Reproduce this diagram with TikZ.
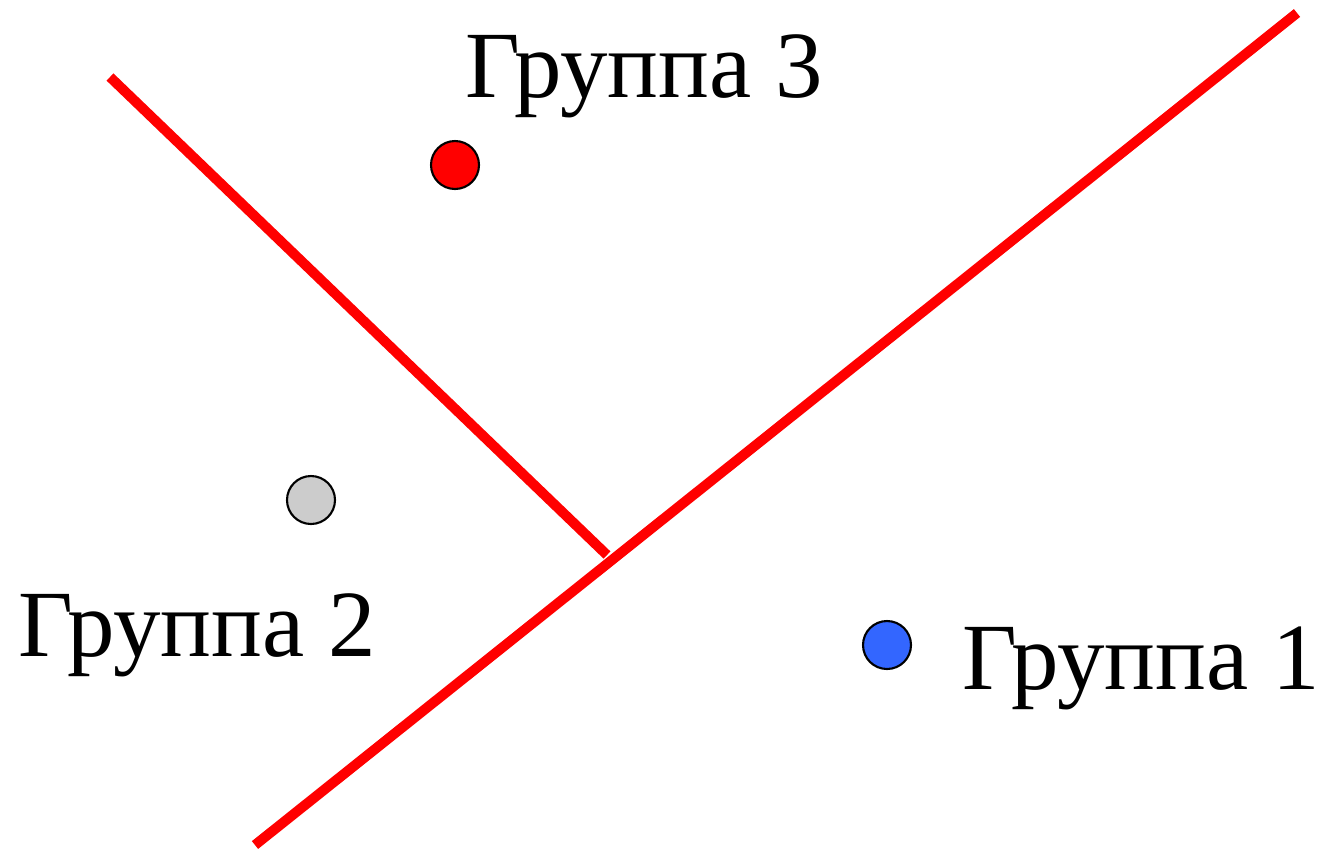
\documentclass[tikz,border=0pt]{standalone}
\usepackage{fontspec}
\setmainfont{Liberation Serif}
\begin{document}
\begin{tikzpicture}[x=0.02cm,y=-0.02cm,
  sep/.style={draw=red,line width=0.2cm},
  pt/.style={circle,draw=black,line width=1.2pt,minimum size=0.96cm,inner sep=0pt},
  lab/.style={anchor=base west,inner sep=0pt,font=\fontsize{54}{60}\selectfont}]
\useasboundingbox (0,0) rectangle (1318,850);
\coordinate (a1) at (255,845);
\coordinate (a2) at (1297,13);
\coordinate (b1) at (110,77);
\coordinate (b2) at (607,555);
\draw[sep] (a1) -- (a2);
\draw[sep] (b1) -- (b2);
\node[pt,fill=red] (p3) at (455,165) {};
\node[pt,fill={rgb,255:red,204;green,204;blue,204}] (p2) at (311,500) {};
\node[pt,fill={rgb,255:red,51;green,102;blue,255}] (p1) at (887,645) {};
\node[lab] (l3) at (465,97) {Группа 3};
\node[lab] (l2) at (18,656) {Группа 2};
\node[lab] (l1) at (962,689) {Группа 1};
\end{tikzpicture}
\end{document}
